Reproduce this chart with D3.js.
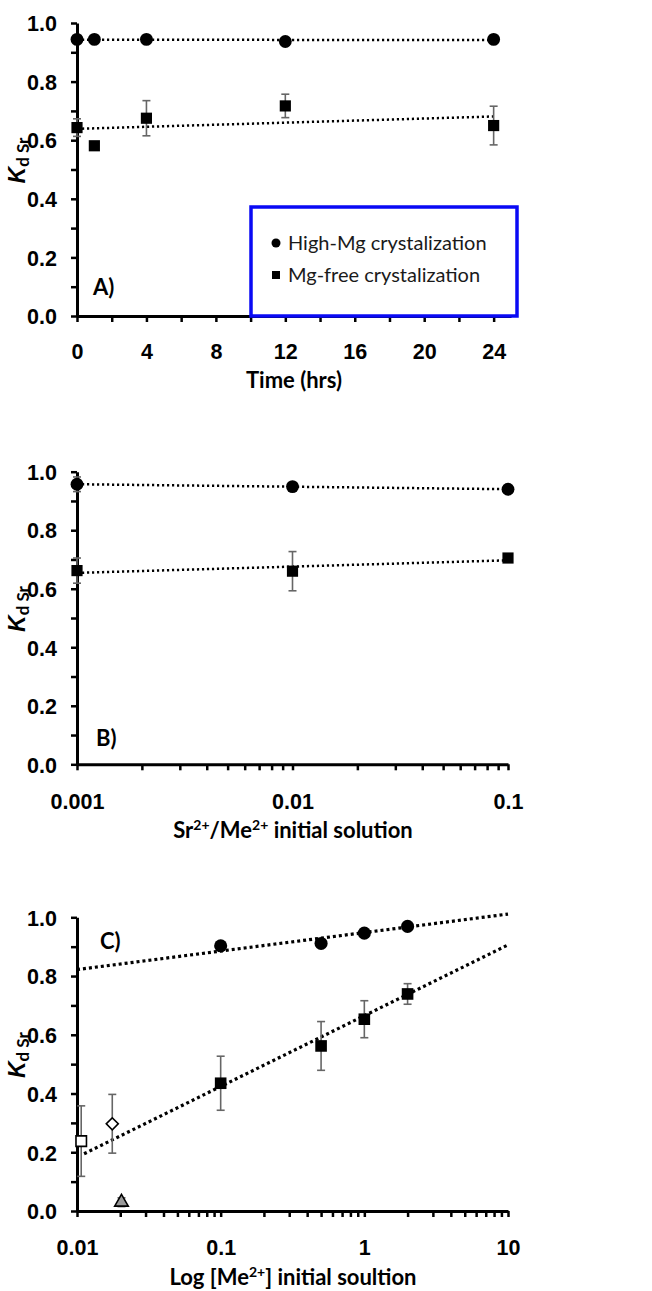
<!DOCTYPE html>
<html>
<head>
<meta charset="utf-8">
<script src="https://cdn.jsdelivr.net/npm/d3@7"></script>
<style>
  body { margin: 0; background: #fff; }
  svg { font-family: Lato, "Open Sans", sans-serif; }
  .axis text { font-size: 21.5px; font-weight: bold; fill: #000; }
</style>
</head>
<body>
<svg id="chart" width="652" height="1291"></svg>
<script>
// ---- data ----
// panel A: Kd Sr vs time
var timeHrs = [0, 1, 4, 12, 24];
var timeHighMg = [0.944, 0.944, 0.944, 0.937, 0.944];
var timeHighMgErr = [0, 0, 0, 0, 0];
var timeMgFree = [0.643, 0.581, 0.675, 0.717, 0.650];
var timeMgFreeErr = [0.03, 0, 0.06, 0.04, 0.066];

// panel B: Kd Sr vs Sr/Me ratio
var ratioSr = [0.001, 0.01, 0.1];
var ratioHighMg = [0.957, 0.949, 0.940];
var ratioHighMgErr = [0.025, 0, 0];
var ratioMgFree = [0.662, 0.660, 0.705];
var ratioMgFreeErr = [0.043, 0.067, 0];

// panel C: Kd Sr vs [Me2+]
var concMe = [0.1, 0.5, 1, 2];
var concHighMg = [0.903, 0.911, 0.946, 0.969];
var concHighMgErr = [0, 0, 0, 0];
var concMgFree = [0.435, 0.562, 0.653, 0.739];
var concMgFreeErr = [0.092, 0.083, 0.063, 0.035];
// open symbols (literature values)
var litMe = [0.0107, 0.0176, 0.0204];
var litKd = [0.238, 0.297, 0.03];
var litErr = [0.12, 0.10, 0.015];
// trend lines of panel C: [intercept, slope] against log10(x), and x extent
var concHighFit = [0.948, 0.063];
var concHighFitRange = [0.01, 10];
var concMgFreeFit = [0.665, 0.241];
var concMgFreeFitRange = [0.0112, 10];

var yTicks = d3.range(0, 11).map(function(i) { return i / 10; });
var timeTicks = d3.range(0, 26, 2);
var legendLabels = ["High-Mg crystalization", "Mg-free crystalization"];

var svg = d3.select("#chart");

function zip(xs, ys, es) {
  return xs.map(function(x, i) { return {x: x, y: ys[i], e: es ? es[i] : 0}; });
}

// least squares on (fx(x), y)
function fitLine(xs, ys, fx) {
  var lx = xs.map(fx);
  var mx = d3.mean(lx), my = d3.mean(ys);
  var sxy = d3.sum(lx, function(v, i) { return (v - mx) * (ys[i] - my); });
  var sxx = d3.sum(lx, function(v) { return (v - mx) * (v - mx); });
  var b = sxy / sxx;
  return [my - b * mx, b];
}

function drawPanel(p) {
  var g = svg.append("g");
  var x = p.x, y = d3.scaleLinear().domain([0, 1]).range([p.bottom, p.top]);

  // y axis
  g.append("g").attr("class", "axis")
    .attr("transform", "translate(" + p.left + ",0)")
    .call(d3.axisLeft(y).tickValues(yTicks).tickSize(6).tickSizeOuter(0).tickPadding(14)
      .tickFormat(function(d, i) { return i % 2 === 0 ? d3.format(".1f")(d) : ""; }))
    .call(function(a) {
      a.select(".domain").attr("stroke-width", 3);
      a.selectAll("line").attr("stroke-width", 2.5);
      a.selectAll("text").attr("dy", "0.36em");
    });

  // x axis
  g.append("g").attr("class", "axis")
    .attr("transform", "translate(0," + p.bottom + ")")
    .call(p.xAxis(d3.axisBottom(x)).tickSize(6).tickSizeOuter(0).tickPadding(p.xPad))
    .call(function(a) {
      a.select(".domain").attr("stroke-width", 3);
      a.selectAll("line").attr("stroke-width", 2.5);
    });

  // y label  K d Sr
  var yl = g.append("text")
    .attr("transform", "rotate(-90)")
    .attr("x", -((p.top + p.bottom) / 2 - 9))
    .attr("y", 25)
    .attr("text-anchor", "middle")
    .attr("font-weight", "bold")
    .attr("font-size", 23);
  yl.append("tspan").attr("font-style", "italic").attr("font-family", "'Liberation Sans', 'DejaVu Sans', sans-serif").text("K");
  yl.append("tspan").attr("font-size", 17).attr("dy", 4).text("d Sr");

  // x title
  var xt = g.append("text")
    .attr("x", p.titleX).attr("y", p.titleY)
    .attr("text-anchor", "middle")
    .attr("font-weight", "bold")
    .attr("font-size", 22);
  p.title.forEach(function(t) {
    var s = xt.append("tspan").text(t[0]);
    if (t[1] === "sup") s.attr("font-size", 14).attr("dy", -8);
    if (t[1] === "down") s.attr("dy", 8);
  });

  // panel letter
  g.append("text").attr("x", p.letterX).attr("y", y(p.letterY) + 8)
    .attr("font-weight", "bold").attr("font-size", 22).text(p.letter);

  // trend lines
  p.fits.forEach(function(f) {
    var pts = f.range.map(function(v) { return [x(v), y(f.coef[0] + f.coef[1] * f.fx(v))]; });
    g.append("path")
      .attr("d", d3.line()(pts))
      .attr("fill", "none")
      .attr("stroke", "#000")
      .attr("stroke-width", p.dotWidth)
      .attr("stroke-dasharray", p.dash);
  });

  // error bars
  p.series.forEach(function(s) {
    var eb = g.selectAll(null).data(s.data.filter(function(d) { return d.e > 0; })).enter().append("g")
      .attr("stroke", "#666").attr("stroke-width", 1.6);
    eb.append("line")
      .attr("x1", function(d) { return x(d.x); }).attr("x2", function(d) { return x(d.x); })
      .attr("y1", function(d) { return y(d.y + d.e); }).attr("y2", function(d) { return y(d.y - d.e); });
    [1, -1].forEach(function(sg) {
      eb.append("line")
        .attr("x1", function(d) { return x(d.x) - 4; }).attr("x2", function(d) { return x(d.x) + 4; })
        .attr("y1", function(d) { return y(d.y + sg * d.e); }).attr("y2", function(d) { return y(d.y + sg * d.e); });
    });
  });

  // markers
  p.series.forEach(function(s) {
    g.selectAll(null).data(s.data).enter().append("path")
      .attr("transform", function(d, i) {
        return "translate(" + x(d.x) + "," + y(d.y) + ")" + (s.rotate ? " rotate(" + s.rotate(i) + ")" : "");
      })
      .attr("d", function(d, i) { return d3.symbol().type(s.symbol(i)).size(s.size(i))(); })
      .attr("fill", function(d, i) { return s.fill(i); })
      .attr("stroke", "#000")
      .attr("stroke-width", s.stroke);
  });
}

function logMinorTicks(domain) {
  var t = [];
  for (var e = Math.round(Math.log10(domain[0])); e <= Math.round(Math.log10(domain[1])); e++) {
    for (var m = 1; m <= 9; m++) {
      var v = m * Math.pow(10, e);
      if (v <= domain[1] * 1.0001) t.push(v);
    }
  }
  return t;
}
function logAxis(axis) {
  var dom = axis.scale().domain();
  return axis.tickValues(logMinorTicks(dom)).tickFormat(function(d) {
    var l = Math.log10(d);
    return Math.abs(l - Math.round(l)) < 1e-9 ? String(+d.toPrecision(1)) : "";
  });
}

function constant(v) { return function() { return v; }; }

// ---- panel A ----
drawPanel({
  top: 23, bottom: 316, left: 77,
  x: d3.scaleLinear().domain([0, 25]).range([77, 511]),
  xAxis: function(a) { return a.tickValues(timeTicks).tickFormat(function(d) { return d % 4 === 0 ? d : ""; }); },
  xPad: 22,
  title: [["Time (hrs)"]], titleX: 294, titleY: 388,
  letter: "A)", letterX: 93, letterY: 0.1,
  dotWidth: 2.5, dash: "2.2 2.8",
  fits: [
    {coef: fitLine(timeHrs, timeHighMg, function(v) { return v; }), range: [0, 24], fx: function(v) { return v; }},
    {coef: fitLine(timeHrs, timeMgFree, function(v) { return v; }), range: [0, 24], fx: function(v) { return v; }}
  ],
  series: [
    {data: zip(timeHrs, timeHighMg, timeHighMgErr), symbol: constant(d3.symbolCircle), size: constant(130), fill: constant("#000"), stroke: 0},
    {data: zip(timeHrs, timeMgFree, timeMgFreeErr), symbol: constant(d3.symbolSquare), size: constant(125), fill: constant("#000"), stroke: 0}
  ]
});

// legend of panel A
var lg = svg.append("g");
lg.append("rect").attr("x", 251).attr("y", 207).attr("width", 266).attr("height", 109)
  .attr("fill", "#fff").attr("stroke", "#0a0af5").attr("stroke-width", 3.5);
lg.append("circle").attr("cx", 276).attr("cy", 243).attr("r", 4.5).attr("fill", "#000");
lg.append("rect").attr("x", 272).attr("y", 271).attr("width", 8).attr("height", 8).attr("fill", "#000");
lg.selectAll(null).data(legendLabels).enter().append("text")
  .attr("x", 288).attr("y", function(d, i) { return 250 + i * 32; })
  .attr("font-size", 20).attr("fill", "#1a1a1a").text(function(d) { return d; });

// ---- panel B ----
drawPanel({
  top: 471.7, bottom: 764.3, left: 77,
  x: d3.scaleLog().domain([0.001, 0.1]).range([77, 508]),
  xAxis: logAxis,
  xPad: 23,
  title: [["Sr"], ["2+", "sup"], ["/Me", "down"], ["2+", "sup"], [" initial solution", "down"]], titleX: 293, titleY: 838,
  letter: "B)", letterX: 96, letterY: 0.09,
  dotWidth: 2.5, dash: "2.2 2.8",
  fits: [
    {coef: fitLine(ratioSr, ratioHighMg, Math.log10), range: [0.001, 0.1], fx: Math.log10},
    {coef: fitLine(ratioSr, ratioMgFree, Math.log10), range: [0.001, 0.1], fx: Math.log10}
  ],
  series: [
    {data: zip(ratioSr, ratioHighMg, ratioHighMgErr), symbol: constant(d3.symbolCircle), size: constant(130), fill: constant("#000"), stroke: 0},
    {data: zip(ratioSr, ratioMgFree, ratioMgFreeErr), symbol: constant(d3.symbolSquare), size: constant(125), fill: constant("#000"), stroke: 0}
  ]
});

// ---- panel C ----
var litSymbols = [d3.symbolSquare, d3.symbolSquare, d3.symbolTriangle];
drawPanel({
  top: 917.3, bottom: 1211, left: 77,
  x: d3.scaleLog().domain([0.01, 10]).range([77, 508]),
  xAxis: logAxis,
  xPad: 23,
  title: [["Log [Me"], ["2+", "sup"], ["] initial soultion", "down"]], titleX: 293, titleY: 1285,
  letter: "C)", letterX: 100, letterY: 0.92,
  dotWidth: 3.2, dash: "3 3",
  fits: [
    {coef: concHighFit, range: concHighFitRange, fx: Math.log10},
    {coef: concMgFreeFit, range: concMgFreeFitRange, fx: Math.log10}
  ],
  series: [
    {data: zip(concMe, concHighMg, concHighMgErr), symbol: constant(d3.symbolCircle), size: constant(135), fill: constant("#000"), stroke: 0},
    {data: zip(concMe, concMgFree, concMgFreeErr), symbol: constant(d3.symbolSquare), size: constant(135), fill: constant("#000"), stroke: 0},
    {data: zip(litMe, litKd, litErr),
     symbol: function(i) { return litSymbols[i]; },
     size: function(i) { return [110, 72, 80][i]; },
     rotate: function(i) { return [0, 45, 0][i]; },
     fill: function(i) { return ["#fff", "#fff", "#999"][i]; },
     stroke: 1.6}
  ]
});
</script>
</body>
</html>
